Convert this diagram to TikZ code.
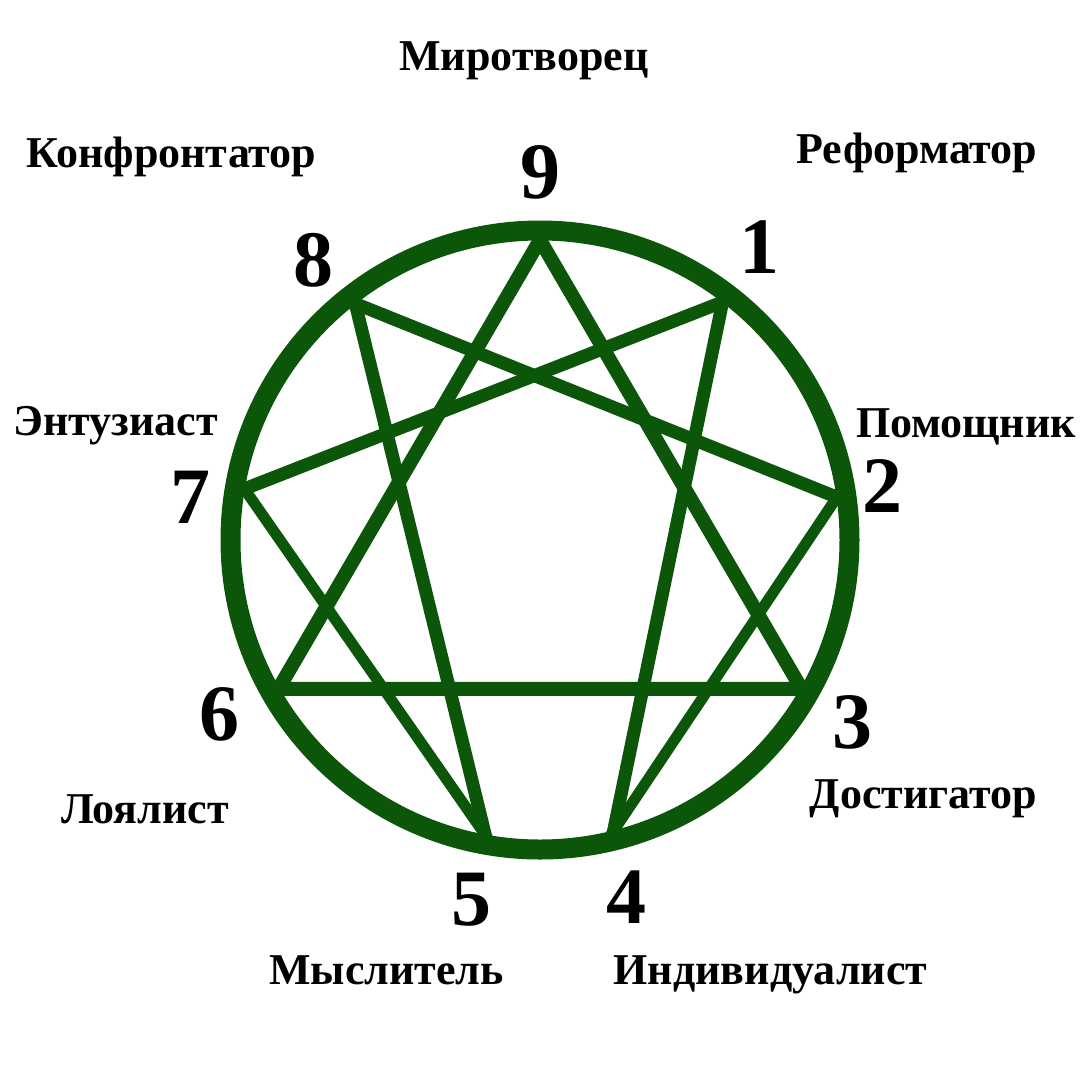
\documentclass[tikz,border=0pt]{standalone}
\usepackage{fontspec}
\setmainfont{Liberation Serif}
\definecolor{enngreen}{RGB}{12,86,10}
\tikzset{
  ring/.style={draw=enngreen, line width=20pt},
  triline/.style={draw=enngreen, line width=14pt, line join=miter},
  hexline/.style={draw=enngreen, line width=13pt, shorten >=-8pt, shorten <=-8pt},
  thinline/.style={draw=enngreen, line width=11pt, shorten >=-8pt, shorten <=-8pt},
  num/.style={inner sep=0pt, font=\fontsize{80}{80}\selectfont\bfseries},
  lbl/.style={inner sep=0pt, anchor=base, font=\fontsize{44}{44}\selectfont\bfseries}
}
\begin{document}
\begin{tikzpicture}[x=1pt,y=-1pt]
\useasboundingbox (0,0) rectangle (1080,1080);
\fill[white] (0,0) rectangle (1080,1080);
% vertices
\coordinate (p9) at (540,240);
\coordinate (p1) at (722.6,302.0);
\coordinate (p2) at (836.9,497.2);
\coordinate (p3) at (801.5,688.8);
\coordinate (p4) at (613.6,830.8);
\coordinate (p5) at (485.3,835.0);
\coordinate (p6) at (278.5,688.8);
\coordinate (p7) at (244.4,488.9);
\coordinate (p8) at (355.3,303.6);
\coordinate (c) at (540,540);
% triangle
\draw[triline] (p9) -- (p3) -- (p6) -- cycle;
% hexad
\draw[hexline] (p1) -- (p4);
\draw[thinline] (p4) -- (p2);
\draw[hexline] (p2) -- (p8);
\draw[hexline] (p8) -- (p5);
\draw[thinline] (p5) -- (p7);
\draw[hexline] (p7) -- (p1);
% ring
\draw[ring] (c) circle[radius=309.5];
% numbers
\node[num] (n9) at (540,172) {9};
\node[num] (n1) at (759,247) {1};
\node[num] (n2) at (882,486) {2};
\node[num] (n3) at (852,722) {3};
\node[num] (n4) at (626,897) {4};
\node[num] (n5) at (471,900) {5};
\node[num] (n6) at (219,714) {6};
\node[num] (n7) at (190,497) {7};
\node[num] (n8) at (313,260) {8};
% labels
\node[lbl] (l9) at (524,70) {Миротворец};
\node[lbl] (l8) at (171.5,167) {Конфронтатор};
\node[lbl] (l1) at (917,163) {Реформатор};
\node[lbl] (l7) at (115.5,435) {Энтузиаст};
\node[lbl] (l2) at (966,437) {Помощник};
\node[lbl] (l3) at (923.5,808) {Достигатор};
\node[lbl] (l6) at (145,823) {Лоялист};
\node[lbl] (l5) at (386.5,984) {Мыслитель};
\node[lbl] (l4) at (770.5,984) {Индивидуалист};
\end{tikzpicture}
\end{document}
